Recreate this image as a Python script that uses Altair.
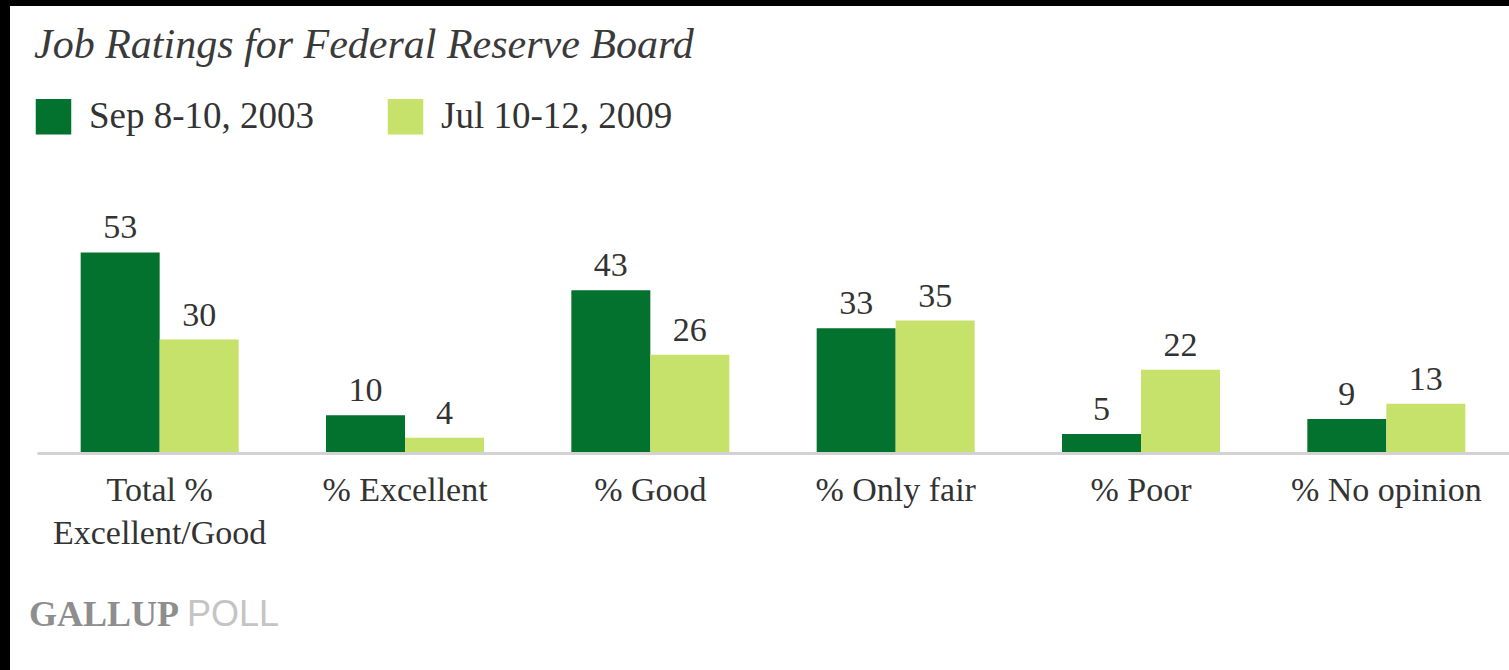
import altair as alt
import pandas as pd

categories = ["Total % Excellent/Good", "% Excellent", "% Good", "% Only fair", "% Poor", "% No opinion"]
periods = ["Sep 8-10, 2003", "Jul 10-12, 2009"]
sep_2003 = [53, 10, 43, 33, 5, 9]
jul_2009 = [30, 4, 26, 35, 22, 13]
colors = ["#03722f", "#c6e26b"]

rows = []
for c, a, b in zip(categories, sep_2003, jul_2009):
    rows.append({"category": c, "period": periods[0], "value": a})
    rows.append({"category": c, "period": periods[1], "value": b})
df = pd.DataFrame(rows)

SERIF = "Liberation Serif"
W, H = 1472, 227

x_enc = alt.X(
    "category:N",
    sort=categories,
    scale=alt.Scale(paddingInner=0.356, paddingOuter=0.178),
    axis=alt.Axis(
        title=None, labelAngle=0, ticks=False, domainColor="#d2d2d2", domainWidth=3,
        labelFont=SERIF, labelFontSize=34, labelColor="#333333", labelPadding=20,
        labelLimit=400, labelOverlap=False, labelLineHeight=43, zindex=1,
        labelExpr="datum.label == 'Total % Excellent/Good' ? ['Total %', 'Excellent/Good'] : datum.label",
    ),
)
y_enc = alt.Y("value:Q", scale=alt.Scale(domain=[0, 60]), axis=None)
xo = alt.XOffset("period:N", sort=periods, scale=alt.Scale(paddingInner=0, paddingOuter=0))

bg = alt.Chart(pd.DataFrame({"k": [0]})).mark_rect(color="white").encode(
    x=alt.value(-27), x2=alt.value(W + 20), y=alt.value(-220), y2=alt.value(H + 230)
)

bars = alt.Chart(df).mark_bar().encode(
    x=x_enc,
    xOffset=xo,
    y=y_enc,
    color=alt.Color(
        "period:N", sort=periods,
        scale=alt.Scale(domain=periods, range=colors),
        legend=alt.Legend(
            title=None, orient="none", legendX=-2, legendY=-128, direction="horizontal",
            columns=2, symbolType="square", symbolSize=1260, symbolStrokeWidth=0,
            symbolOpacity=1, labelFont=SERIF, labelFontSize=37, labelColor="#333333",
            labelOffset=17, columnPadding=72, labelLimit=400,
        ),
    ),
)

labels = alt.Chart(df).mark_text(
    font=SERIF, fontSize=34, color="#333333", baseline="alphabetic", dy=-14
).encode(x=x_enc, xOffset=xo, y=y_enc, text=alt.Text("value:Q"))

gallup = alt.Chart(pd.DataFrame({"k": [0]})).mark_text(
    font=SERIF, fontSize=36, color="#8e8e8e", align="left", baseline="alphabetic", fontWeight="bold"
).encode(x=alt.value(-8), y=alt.value(400), text=alt.value("GALLUP"))

poll = alt.Chart(pd.DataFrame({"k": [0]})).mark_text(
    font="Liberation Sans", fontSize=36, color="#c4c4c4", align="left", baseline="alphabetic"
).encode(x=alt.value(150), y=alt.value(400), text=alt.value("POLL"))

chart = alt.layer(bg, bars, labels, gallup, poll).properties(
    width=W, height=H,
    title=alt.TitleParams(
        "Job Ratings for Federal Reserve Board", anchor="start", font=SERIF, fontSize=42,
        fontStyle="italic", fontWeight="normal", color="#3a3a3a", offset=-61, dx=24,
    ),
    autosize=alt.AutoSizeParams(type="none"),
    padding={"left": 37, "top": 226, "right": 0, "bottom": 217},
    background="black",
).configure_view(stroke=None)

chart.save("out.html", embed_options={"renderer": "svg", "actions": False})
